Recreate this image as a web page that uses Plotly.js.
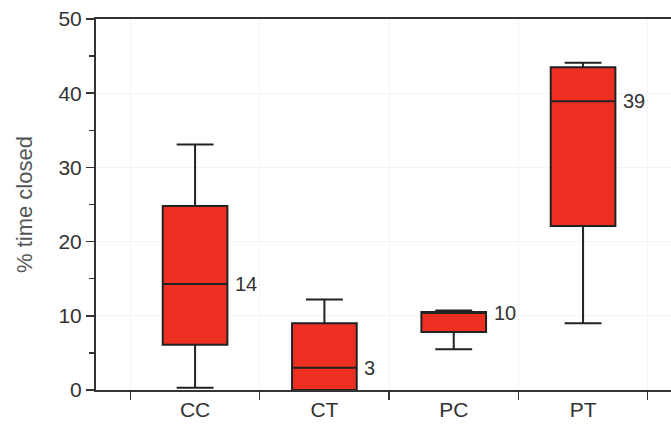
<!DOCTYPE html>
<html>
<head>
<meta charset="utf-8">
<script src="https://cdn.plot.ly/plotly-3.0.1.min.js"></script>
<style>html,body{margin:0;padding:0;background:#fff;}#chart{width:671px;height:426px;}</style>
</head>
<body>
<div id="chart"></div>
<script>
// Data
const categories = ['CC', 'CT', 'PC', 'PT'];
const lowerWhisker = [0.3, 0.0, 5.5, 9.0];
const q1Values = [6.1, 0.0, 7.8, 22.1];
const medianValues = [14.3, 3.0, 10.4, 38.9];
const q3Values = [24.8, 9.0, 10.5, 43.5];
const upperWhisker = [33.1, 12.2, 10.7, 44.1];
const medianLabels = ['14', '3', '10', '39'];
const yTickVals = [0, 10, 20, 30, 40, 50];

const font = 'Liberation Sans, Arial, Helvetica, sans-serif';

const trace = {
  type: 'box',
  x: categories,
  q1: q1Values,
  median: medianValues,
  q3: q3Values,
  lowerfence: lowerWhisker,
  upperfence: upperWhisker,
  boxpoints: false,
  width: 0.5,
  whiskerwidth: 0.57,
  fillcolor: '#ec2f20',
  line: {color: '#222222', width: 2},
  hoverinfo: 'skip',
  showlegend: false
};

const annotations = categories.map((c, i) => ({
  x: c,
  y: medianValues[i],
  xref: 'x',
  yref: 'y',
  text: medianLabels[i],
  showarrow: false,
  xanchor: 'left',
  yanchor: 'middle',
  xshift: 38,
  font: {family: font, size: 20, color: '#333333'}
}));

const layout = {
  width: 671,
  height: 426,
  margin: {l: 96, r: 0, t: 19, b: 36},
  paper_bgcolor: '#ffffff',
  plot_bgcolor: '#ffffff',
  font: {family: font, color: '#333333'},
  xaxis: {
    type: 'category',
    range: [-0.766, 3.68],
    tickson: 'boundaries',
    ticks: 'outside',
    ticklen: 8,
    tickwidth: 1.5,
    tickcolor: '#333333',
    showline: true,
    linecolor: '#333333',
    linewidth: 2,
    mirror: true,
    showgrid: true,
    gridcolor: '#f4f4f4',
    gridwidth: 1,
    zeroline: false,
    tickfont: {family: font, size: 21, color: '#333333'},
    fixedrange: true
  },
  yaxis: {
    range: [0, 50],
    tickvals: yTickVals,
    ticks: 'outside',
    ticklen: 8,
    tickwidth: 1.5,
    tickcolor: '#333333',
    minor: {dtick: 5, tick0: 0, ticks: 'outside', ticklen: 5, tickwidth: 1.5, tickcolor: '#333333', showgrid: false},
    showline: true,
    linecolor: '#333333',
    linewidth: 2,
    showgrid: true,
    gridcolor: '#f4f4f4',
    gridwidth: 1,
    zeroline: false,
    tickfont: {family: font, size: 21, color: '#333333'},
    title: {text: '% time closed', font: {family: font, size: 22, color: '#555555'}, standoff: 20},
    fixedrange: true
  },
  annotations: annotations
};

Plotly.newPlot('chart', [trace], layout, {displayModeBar: false, staticPlot: true});
</script>
</body>
</html>
